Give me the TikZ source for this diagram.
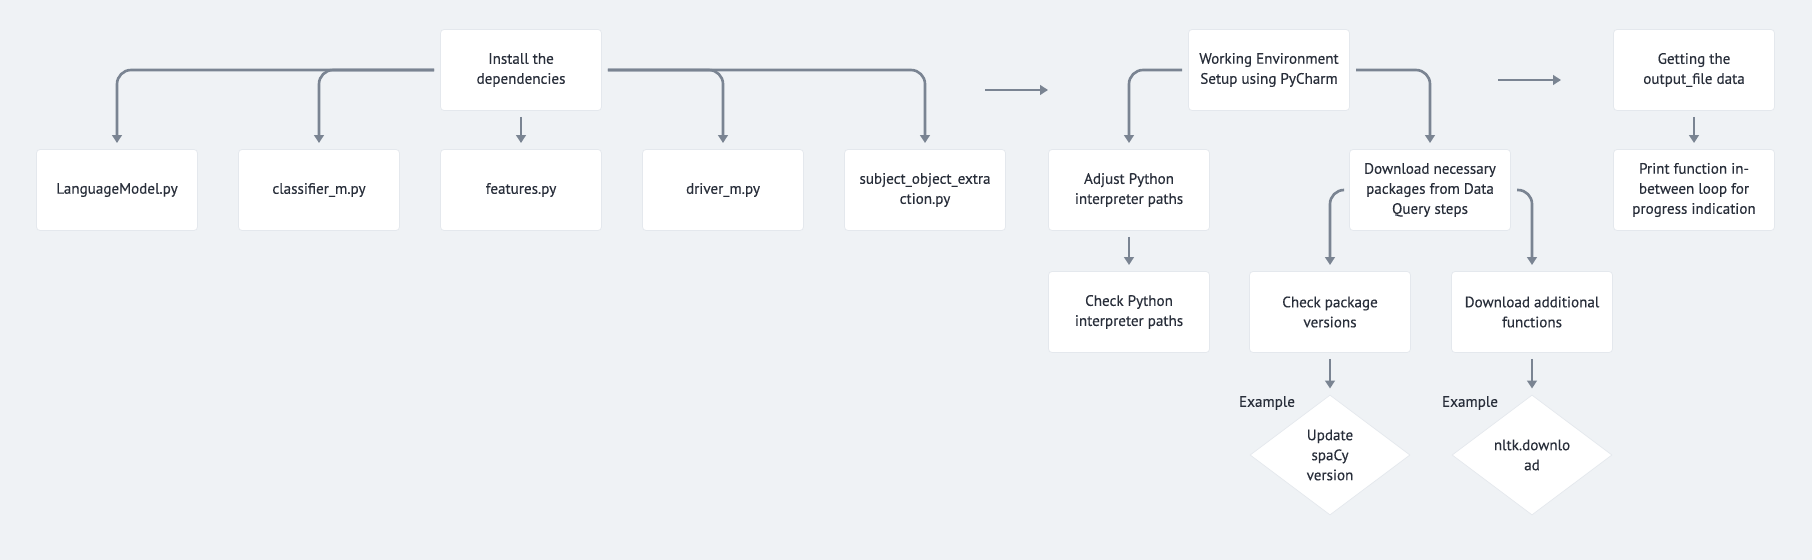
\documentclass[tikz,border=0pt]{standalone}
\usepackage{fontspec}
\setmainfont{PT Sans}[FakeBold=0.25]
\usepackage{tikz}
\usetikzlibrary{arrows.meta,shapes.geometric}
\definecolor{bg_gray}{RGB}{239,242,245}
\definecolor{edge_gray}{RGB}{122,132,146}
\definecolor{text_dark}{RGB}{40,46,58}
\definecolor{box_line}{RGB}{228,232,237}

\begin{document}
\begin{tikzpicture}[->,line width=1.5pt,>={Triangle[length=4.5pt,width=5.5pt]},x=0.02cm,y=-0.02cm,
    font=\fontsize{8.6}{11.4}\selectfont]
    \tikzstyle{box}=[draw=box_line, line width=0.4pt, rectangle, rounded corners=2pt, fill=white, minimum width=3.22cm, minimum height=1.62cm, align=center, text=text_dark, inner sep=2pt]
    \tikzstyle{dia}=[box, diamond, minimum width=3.2cm, minimum height=2.4cm, inner sep=0pt, rounded corners=0pt]
    \tikzstyle{note}=[text=text_dark, inner sep=1pt]
    \tikzstyle{link}=[edge_gray, shorten <=3.5pt, shorten >=3.5pt]
    \tikzstyle{elbow}=[link, rounded corners=8pt, to path={-| (\tikztotarget)}]

    \fill[bg_gray] (0,0) rectangle (1812,560);
    \useasboundingbox (0,0) rectangle (1812,560);

    % install step
    \node[box] (inst) at (521,70)  {Install the\\dependencies};
    \node[box] (lm)   at (117,190) {LanguageModel.py};
    \node[box] (clf)  at (319,190) {classifier\_m.py};
    \node[box] (feat) at (521,190) {features.py};
    \node[box] (drv)  at (723,190) {driver\_m.py};
    \node[box] (soe)  at (925,190) {subject\_object\_extra\\ction.py};

    % environment step
    \node[box] (env)  at (1269,70)  {Working Environment\\Setup using PyCharm};
    \node[box] (adj)  at (1129,190) {Adjust Python\\interpreter paths};
    \node[box] (dl)   at (1430,190) {Download necessary\\packages from Data\\Query steps};
    \node[box] (chk)  at (1129,312) {Check Python\\interpreter paths};
    \node[box] (pkg)  at (1330,312) {Check package\\versions};
    \node[box] (add)  at (1532,312) {Download additional\\functions};
    \node[dia] (spacy) at (1330,455) {Update\\spaCy\\version};
    \node[dia] (nltk)  at (1532,455) {nltk.downlo\\ad};
    \node[note] (ex1) at (1267,403) {Example};
    \node[note] (ex2) at (1470,403) {Example};

    % output step
    \node[box] (get)  at (1694,70)  {Getting the\\output\_file data};
    \node[box] (prt)  at (1694,190) {Print function in-\\between loop for\\progress indication};

    \coordinate (g1a) at (985,90);
    \coordinate (g1b) at (1048,90);
    \coordinate (g2a) at (1498,80);
    \coordinate (g2b) at (1561,80);

    \path
     (inst.west) edge[elbow] (lm.north)
     (inst.west) edge[elbow] (clf.north)
     (inst) edge[link] (feat)
     (inst.east) edge[elbow] (drv.north)
     (inst.east) edge[elbow] (soe.north)
     (env.west) edge[elbow] (adj.north)
     (env.east) edge[elbow] (dl.north)
     (dl.west) edge[elbow] (pkg.north)
     (dl.east) edge[elbow] (add.north)
     (adj) edge[link] (chk)
     (pkg) edge[link] (spacy)
     (add) edge[link] (nltk)
     (get) edge[link] (prt)
     (g1a) edge[edge_gray] (g1b)
     (g2a) edge[edge_gray] (g2b)
     ;
\end{tikzpicture}
\end{document}
